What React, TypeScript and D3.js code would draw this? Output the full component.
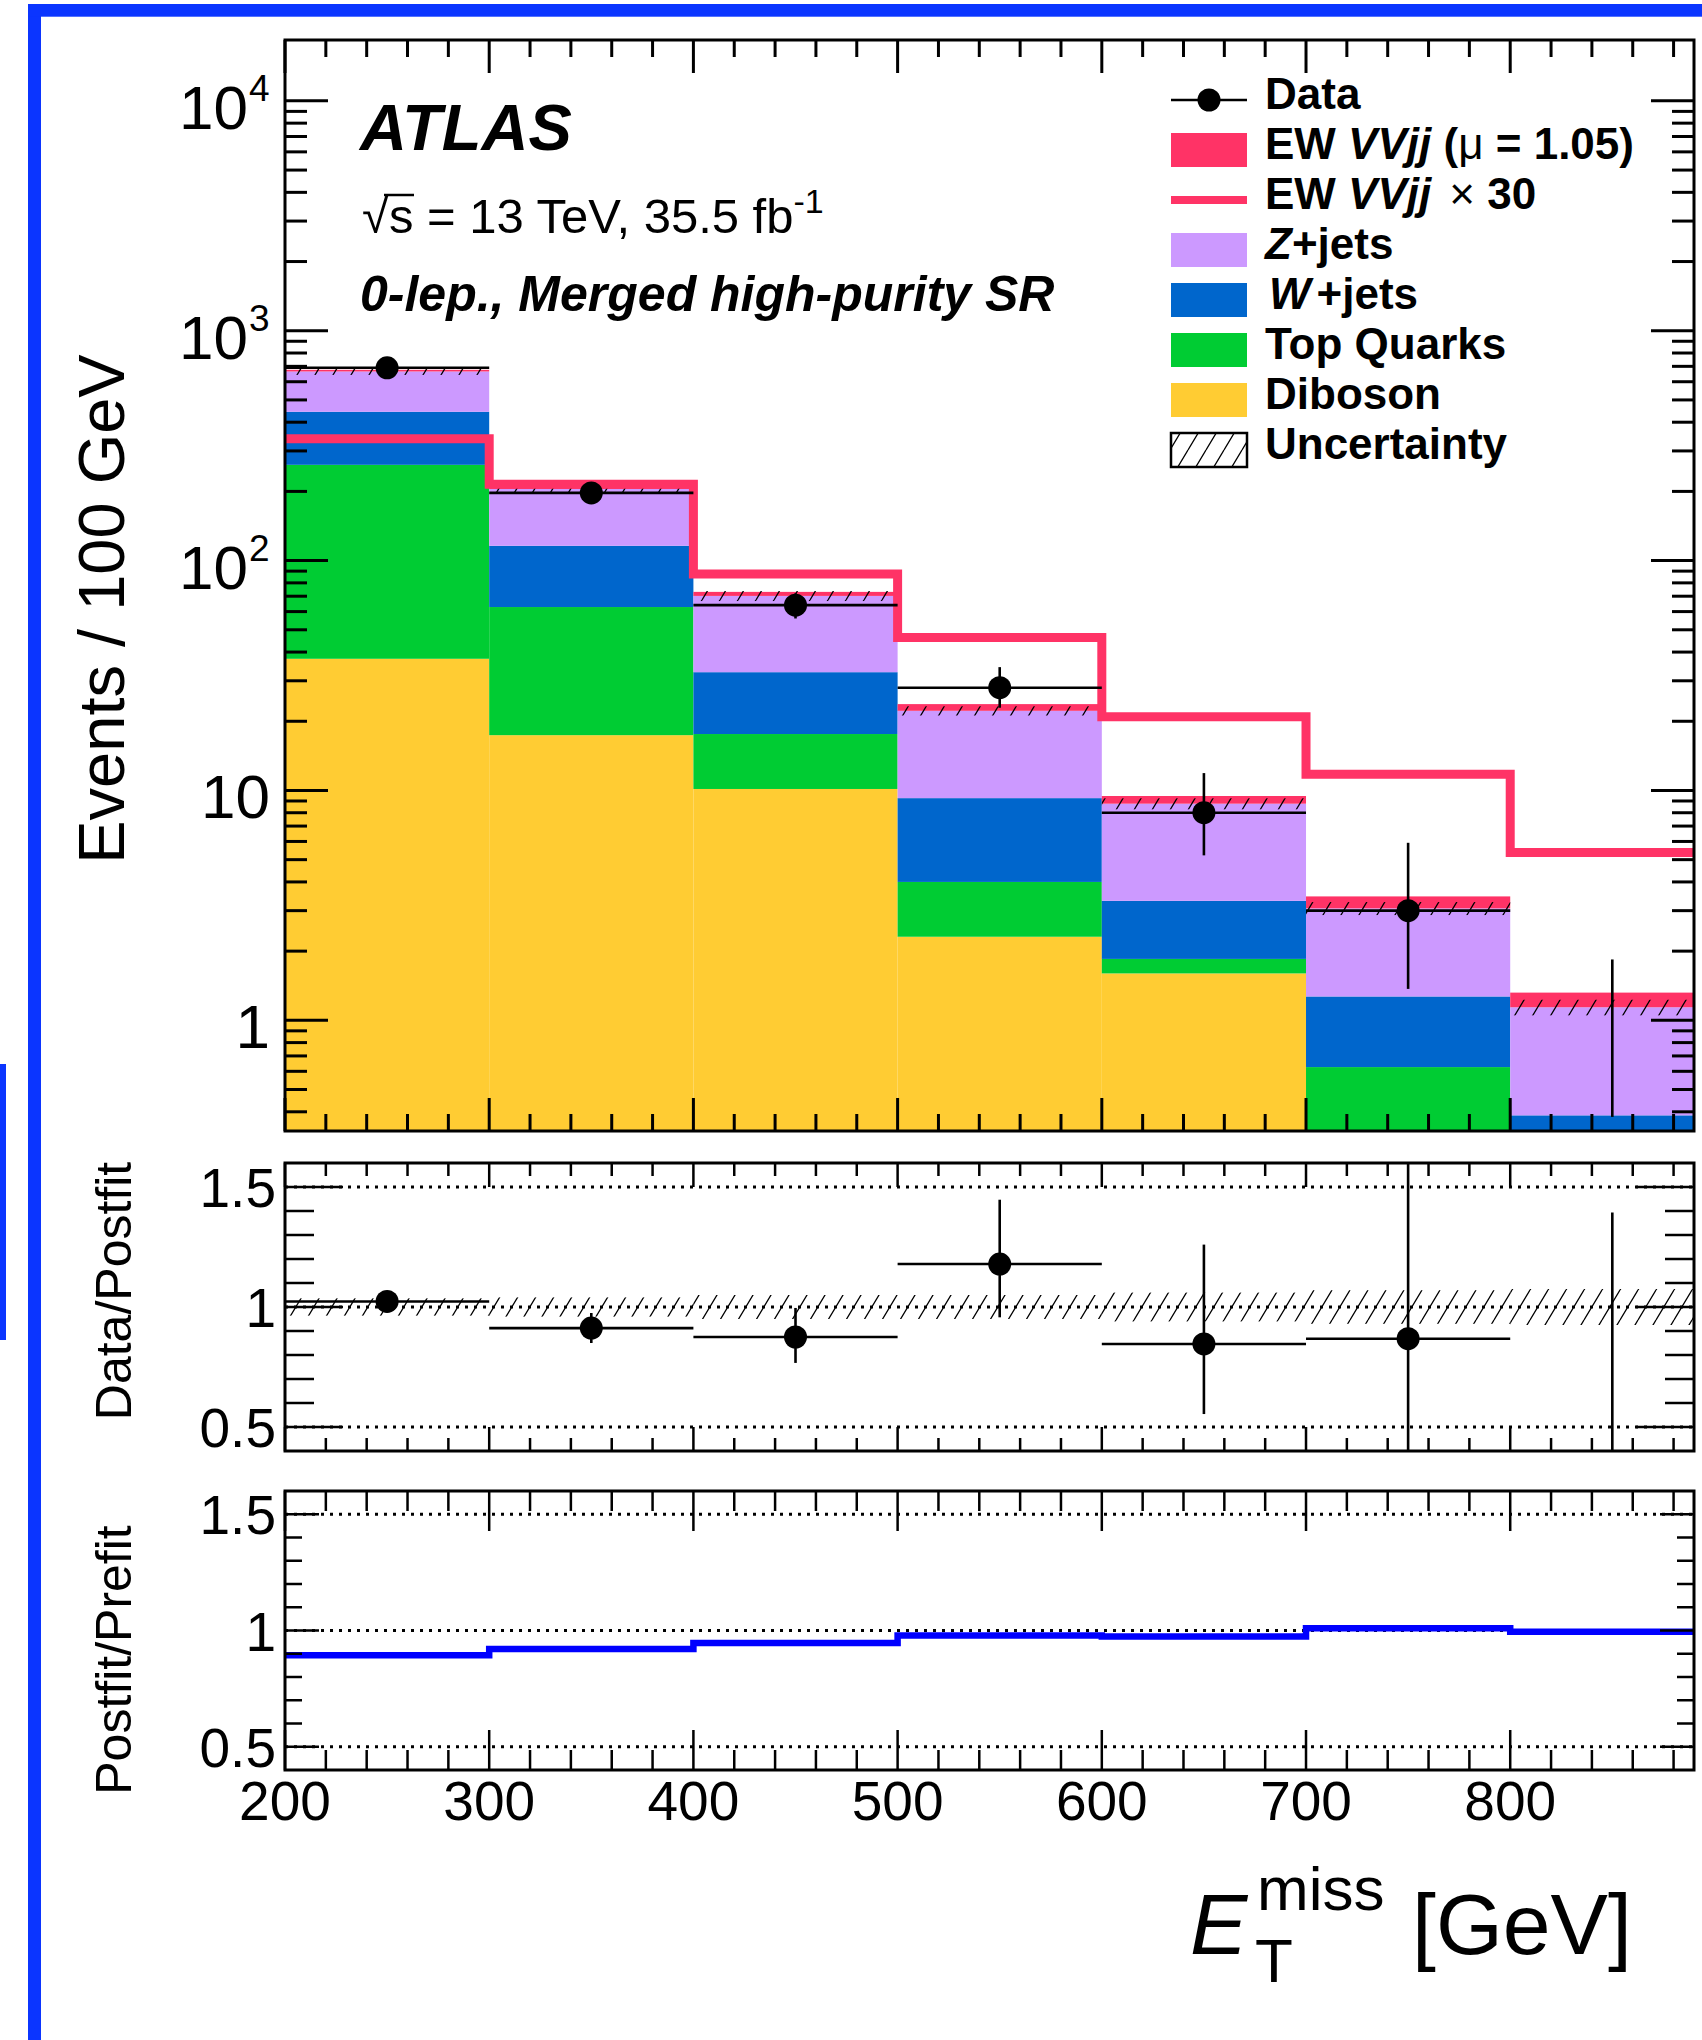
import React from "react";
import * as d3 from "d3";

// ---------------- data ----------------
const binEdges = [200, 300, 400, 500, 600, 700, 800, 900];
const diboson = [37.4, 17.4, 10.15, 2.31, 1.6, 0.25, 0.12];
const topQuarks = [223.6, 45.4, 7.45, 1.69, 0.25, 0.376, 0.12];
const wJets = [183, 53.2, 15.1, 5.26, 1.46, 0.644, 0.146];
const zJets = [221, 89, 37.5, 12.95, 5.45, 1.8, 0.754];
const ewVVjj = [11, 7, 2.9, 1.54, 0.7, 0.39, 0.18];
const ewVVjjX30 = [339, 215, 87.5, 46.3, 20.9, 11.77, 5.37];
const dataCounts = [690, 197, 64, 28, 8, 3, 0];
const dataLow = [664, 183, 56, 22.9, 5.22, 1.37, 0.38];
const dataHigh = [716, 211, 72, 34.4, 11.9, 5.92, 1.84];
const bkgRelUnc = [0.034, 0.04, 0.05, 0.046, 0.055, 0.065, 0.078];
const ratioData = [1.023, 0.912, 0.875, 1.179, 0.846, 0.868, 0];
const ratioLow = [0.985, 0.85, 0.767, 0.957, 0.554, 0.396, 0];
const ratioHigh = [1.062, 0.975, 0.996, 1.447, 1.26, 1.711, 1.394];
const ratioUnc = [0.036, 0.04, 0.05, 0.05, 0.06, 0.07, 0.075];
const postfitOverPrefit = [0.894, 0.92, 0.946, 0.978, 0.974, 1.01, 0.995];

const xDomain = [200, 890];
const yMainDomain = [0.33, 18400];
const ratioDomain = [0.4, 1.6];
const xTickLabels = [200, 300, 400, 500, 600, 700, 800];
const mainYLabels = [
  { v: 10000, base: "10", sup: "4" },
  { v: 1000, base: "10", sup: "3" },
  { v: 100, base: "10", sup: "2" },
  { v: 10, base: "10", sup: "" },
  { v: 1, base: "1", sup: "" },
];
const ratioLabels = [
  { v: 1.5, t: "1.5" },
  { v: 1, t: "1" },
  { v: 0.5, t: "0.5" },
];
const stackKeys = ["diboson", "top", "wjets", "zjets", "ew"];
const stackColors: Record<string, string> = {
  diboson: "#ffcc33",
  top: "#00cc33",
  wjets: "#0066cc",
  zjets: "#cc99ff",
  ew: "#ff3366",
};

const FONT = "'Liberation Sans', Arial, Helvetica, sans-serif";

export default function App() {
  const L = 285,
    R = 1694;
  const mainTop = 40,
    mainBot = 1131;
  const p1Top = 1163,
    p1Bot = 1451;
  const p2Top = 1491,
    p2Bot = 1770;

  const x = d3.scaleLinear().domain(xDomain).range([L, R]);
  const y = d3.scaleLog().domain(yMainDomain).range([mainBot, mainTop]).clamp(true);
  const yr1 = d3.scaleLinear().domain(ratioDomain).range([p1Bot, p1Top]);
  const yr2 = d3.scaleLinear().domain(ratioDomain).range([p2Bot, p2Top]);

  const nb = dataCounts.length;
  const rows = d3.range(nb).map((i) => ({
    lo: binEdges[i],
    hi: binEdges[i + 1],
    diboson: diboson[i],
    top: topQuarks[i],
    wjets: wJets[i],
    zjets: zJets[i],
    ew: ewVVjj[i],
  }));
  const series = d3.stack<any>().keys(stackKeys)(rows);
  const yMin = yMainDomain[0];

  const stepPts = (vals: number[]) => {
    const pts: [number, number][] = vals.map((v, i) => [binEdges[i], v]);
    pts.push([binEdges[nb], vals[nb - 1]]);
    return pts;
  };
  const ewLine = d3
    .line<[number, number]>()
    .x((d) => x(d[0]))
    .y((d) => y(d[1]))
    .curve(d3.curveStepAfter)(stepPts(ewVVjjX30));
  const ppLine = d3
    .line<[number, number]>()
    .x((d) => x(d[0]))
    .y((d) => yr2(d[1]))
    .curve(d3.curveStepAfter)(stepPts(postfitOverPrefit));

  // ---- tick helpers ----
  const xMinor = d3.range(200, 891, 20);
  const xTicks = (top: number, bot: number, maj: number, min: number, sw: number, key: string) =>
    xMinor.map((v) => {
      const len = v % 100 === 0 ? maj : min;
      const xx = x(v);
      return (
        <g key={key + v}>
          <line x1={xx} x2={xx} y1={top} y2={top + len} stroke="#000" strokeWidth={sw} />
          <line x1={xx} x2={xx} y1={bot} y2={bot - len} stroke="#000" strokeWidth={sw} />
        </g>
      );
    });

  const logTicks: { v: number; major: boolean }[] = [];
  for (let d = -1; d <= 4; d++) {
    for (let k = 1; k <= 9; k++) {
      const v = k * Math.pow(10, d);
      if (v >= yMainDomain[0] && v <= yMainDomain[1]) logTicks.push({ v, major: k === 1 });
    }
  }
  const ratioTickVals = d3.range(5, 16).map((k) => k / 10);

  const ratioYTicks = (sc: any, maj: number, min: number, key: string) =>
    ratioTickVals.map((v) => {
      const major = Math.abs(v * 2 - Math.round(v * 2)) < 1e-6;
      const len = major ? maj : min;
      const yy = sc(v);
      return (
        <g key={key + v}>
          <line x1={L} x2={L + len} y1={yy} y2={yy} stroke="#000" strokeWidth={2.5} />
          <line x1={R} x2={R - len} y1={yy} y2={yy} stroke="#000" strokeWidth={2.5} />
        </g>
      );
    });

  const dotted = (sc: any, key: string) =>
    ratioLabels.map((r) => (
      <line
        key={key + r.v}
        x1={L}
        x2={R}
        y1={sc(r.v)}
        y2={sc(r.v)}
        stroke="#000"
        strokeWidth={2.8}
        strokeDasharray="3,6"
      />
    ));

  const legendX = 1171,
    legendW = 76,
    legendTextX = 1265;
  const legendRow = (i: number) => 100 + i * 50;
  const legendFont = 44;

  return (
    <svg
      width={1702}
      height={2040}
      style={{ position: "absolute", left: 0, top: 0, background: "#fff" }}
      fontFamily={FONT}
    >
      <defs>
        <pattern id="hatch" patternUnits="userSpaceOnUse" width={18} height={30}>
          <path d="M-18,30 L0,0 M0,30 L18,0 M18,30 L36,0" stroke="#000" strokeWidth={1.3} />
        </pattern>
        <clipPath id="clipMain">
          <rect x={L} y={mainTop} width={R - L} height={mainBot - mainTop} />
        </clipPath>
        <clipPath id="clipP1">
          <rect x={L} y={p1Top} width={R - L} height={p1Bot - p1Top} />
        </clipPath>
        <clipPath id="clipP2">
          <rect x={L} y={p2Top} width={R - L} height={p2Bot - p2Top} />
        </clipPath>
      </defs>

      {/* blue page border */}
      <rect x={28} y={4} width={13} height={2036} fill="#0b35ff" />
      <rect x={28} y={4} width={1674} height={12.7} fill="#0b35ff" />
      <rect x={0} y={1064} width={6} height={276} fill="#0b35ff" />

      {/* ---------------- main panel ---------------- */}
      <g clipPath="url(#clipMain)">
        {series.map((s: any) =>
          s.map((d: any, i: number) => (
            <rect
              key={s.key + i}
              x={x(d.data.lo)}
              width={x(d.data.hi) - x(d.data.lo)}
              y={y(d[1])}
              height={Math.max(0, y(Math.max(d[0], yMin)) - y(d[1]))}
              fill={stackColors[s.key]}
            />
          ))
        )}
        {rows.map((r, i) => {
          const bkg = r.diboson + r.top + r.wjets + r.zjets;
          return (
            <rect
              key={"unc" + i}
              x={x(r.lo)}
              width={x(r.hi) - x(r.lo)}
              y={y(bkg * (1 + bkgRelUnc[i]))}
              height={y(bkg * (1 - bkgRelUnc[i])) - y(bkg * (1 + bkgRelUnc[i]))}
              fill="url(#hatch)"
            />
          );
        })}
        <path d={ewLine || ""} fill="none" stroke="#ff3366" strokeWidth={9} />
        {dataCounts.map((v, i) => {
          const cx = x((binEdges[i] + binEdges[i + 1]) / 2);
          return (
            <g key={"d" + i}>
              <line x1={cx} x2={cx} y1={y(dataLow[i])} y2={y(dataHigh[i])} stroke="#000" strokeWidth={2.6} />
              {v > 0 && (
                <>
                  <line
                    x1={x(binEdges[i])}
                    x2={x(binEdges[i + 1])}
                    y1={y(v)}
                    y2={y(v)}
                    stroke="#000"
                    strokeWidth={2.6}
                  />
                  <circle cx={cx} cy={y(v)} r={11.5} fill="#000" />
                </>
              )}
            </g>
          );
        })}
      </g>
      {xTicks(mainTop, mainBot, 33, 17, 3, "mx")}
      {logTicks.map((t, i) => {
        const len = t.major ? 43 : 22;
        const yy = y(t.v);
        return (
          <g key={"ly" + i}>
            <line x1={L} x2={L + len} y1={yy} y2={yy} stroke="#000" strokeWidth={3} />
            <line x1={R} x2={R - len} y1={yy} y2={yy} stroke="#000" strokeWidth={3} />
          </g>
        );
      })}
      <rect x={L} y={mainTop} width={R - L} height={mainBot - mainTop} fill="none" stroke="#000" strokeWidth={3} />
      {mainYLabels.map((t) =>
        t.sup ? (
          <g key={"yl" + t.v}>
            <text x={248} y={y(t.v) + 28} fontSize={62} textAnchor="end">
              {t.base}
            </text>
            <text x={249} y={y(t.v) + 0} fontSize={37}>
              {t.sup}
            </text>
          </g>
        ) : (
          <text key={"yl" + t.v} x={270} y={y(t.v) + 28} fontSize={62} textAnchor="end">
            {t.base}
          </text>
        )
      )}
      <text transform="translate(124,609) rotate(-90)" fontSize={65} textAnchor="middle">
        Events / 100 GeV
      </text>

      {/* ATLAS labels */}
      <text x={360} y={150} fontSize={65} fontWeight="bold" fontStyle="italic">
        ATLAS
      </text>
      <text x={362} y={233} fontSize={49}>
        √s = 13 TeV, 35.5 fb
        <tspan dy={-20} fontSize={34}>
          -1
        </tspan>
      </text>
      <line x1={384} x2={414} y1={195} y2={195} stroke="#000" strokeWidth={2.5} />
      <text x={360} y={311} fontSize={50} fontWeight="bold" fontStyle="italic">
        0-lep., Merged high-purity SR
      </text>

      {/* legend */}
      <g fontWeight="bold" fontSize={legendFont}>
        <line x1={legendX} x2={legendX + legendW} y1={legendRow(0)} y2={legendRow(0)} stroke="#000" strokeWidth={2.6} />
        <circle cx={legendX + legendW / 2} cy={legendRow(0)} r={11.5} fill="#000" />
        <text x={legendTextX} y={legendRow(0) + 9}>Data</text>

        <rect x={legendX} y={legendRow(1) - 17} width={legendW} height={34} fill={stackColors.ew} />
        <text x={legendTextX} y={legendRow(1) + 9}>
          EW <tspan fontStyle="italic">VVjj</tspan> (<tspan fontWeight="normal">μ</tspan> = 1.05)
        </text>

        <line x1={legendX} x2={legendX + legendW} y1={legendRow(2)} y2={legendRow(2)} stroke="#ff3366" strokeWidth={8} />
        <text x={legendTextX} y={legendRow(2) + 9}>
          EW <tspan fontStyle="italic">VVjj</tspan>
          <tspan fontWeight="normal" dx={18}>×</tspan> 30
        </text>

        <rect x={legendX} y={legendRow(3) - 17} width={legendW} height={34} fill={stackColors.zjets} />
        <text x={legendTextX} y={legendRow(3) + 9}>
          <tspan fontStyle="italic">Z</tspan>+jets
        </text>

        <rect x={legendX} y={legendRow(4) - 17} width={legendW} height={34} fill={stackColors.wjets} />
        <text x={legendTextX + 4} y={legendRow(4) + 9}>
          <tspan fontStyle="italic">W</tspan>
          <tspan dx={6}>+jets</tspan>
        </text>

        <rect x={legendX} y={legendRow(5) - 17} width={legendW} height={34} fill={stackColors.top} />
        <text x={legendTextX} y={legendRow(5) + 9}>Top Quarks</text>

        <rect x={legendX} y={legendRow(6) - 17} width={legendW} height={34} fill={stackColors.diboson} />
        <text x={legendTextX} y={legendRow(6) + 9}>Diboson</text>

        <rect x={legendX} y={legendRow(7) - 17} width={legendW} height={34} fill="url(#hatch)" stroke="#000" strokeWidth={2.5} />
        <text x={legendTextX} y={legendRow(7) + 9}>Uncertainty</text>
      </g>

      {/* ---------------- ratio panel 1 ---------------- */}
      {dotted(yr1, "d1")}
      <g clipPath="url(#clipP1)">
        {ratioUnc.map((u, i) => (
          <rect
            key={"ru" + i}
            x={x(binEdges[i])}
            width={x(binEdges[i + 1]) - x(binEdges[i])}
            y={yr1(1 + u)}
            height={yr1(1 - u) - yr1(1 + u)}
            fill="url(#hatch)"
          />
        ))}
        {ratioData.map((v, i) => {
          const cx = x((binEdges[i] + binEdges[i + 1]) / 2);
          return (
            <g key={"r" + i}>
              <line x1={cx} x2={cx} y1={yr1(ratioLow[i])} y2={yr1(ratioHigh[i])} stroke="#000" strokeWidth={2.6} />
              {v > 0 && (
                <>
                  <line
                    x1={x(binEdges[i])}
                    x2={x(binEdges[i + 1])}
                    y1={yr1(v)}
                    y2={yr1(v)}
                    stroke="#000"
                    strokeWidth={2.6}
                  />
                  <circle cx={cx} cy={yr1(v)} r={11.5} fill="#000" />
                </>
              )}
            </g>
          );
        })}
      </g>
      {xTicks(p1Top, p1Bot, 24, 13, 2.5, "p1x")}
      {ratioYTicks(yr1, 58, 29, "p1y")}
      <rect x={L} y={p1Top} width={R - L} height={p1Bot - p1Top} fill="none" stroke="#000" strokeWidth={3} />
      {ratioLabels.map((r) => (
        <text key={"r1l" + r.v} x={276} y={yr1(r.v) + 20} fontSize={55} textAnchor="end">
          {r.t}
        </text>
      ))}
      <text transform="translate(131,1291) rotate(-90)" fontSize={50} textAnchor="middle">
        Data/Postfit
      </text>

      {/* ---------------- ratio panel 2 ---------------- */}
      {dotted(yr2, "d2")}
      <g clipPath="url(#clipP2)">
        <path d={ppLine || ""} fill="none" stroke="#0000ff" strokeWidth={6.5} />
      </g>
      {xTicks(p2Top, p2Bot, 40, 20, 2.5, "p2x")}
      {ratioYTicks(yr2, 34, 17, "p2y")}
      <rect x={L} y={p2Top} width={R - L} height={p2Bot - p2Top} fill="none" stroke="#000" strokeWidth={3} />
      {ratioLabels.map((r) => (
        <text key={"r2l" + r.v} x={276} y={yr2(r.v) + 20} fontSize={55} textAnchor="end">
          {r.t}
        </text>
      ))}
      <text transform="translate(131,1660) rotate(-90)" fontSize={50} textAnchor="middle">
        Postfit/Prefit
      </text>
      {xTickLabels.map((v) => (
        <text key={"xl" + v} x={x(v)} y={1820} fontSize={55} textAnchor="middle">
          {v}
        </text>
      ))}

      {/* x axis title */}
      <text x={1190} y={1954} fontSize={86} fontStyle="italic">
        E
      </text>
      <text x={1255} y={1982} fontSize={62}>
        T
      </text>
      <text x={1257} y={1910} fontSize={62}>
        miss
      </text>
      <text x={1412} y={1954} fontSize={86}>
        [GeV]
      </text>
    </svg>
  );
}
